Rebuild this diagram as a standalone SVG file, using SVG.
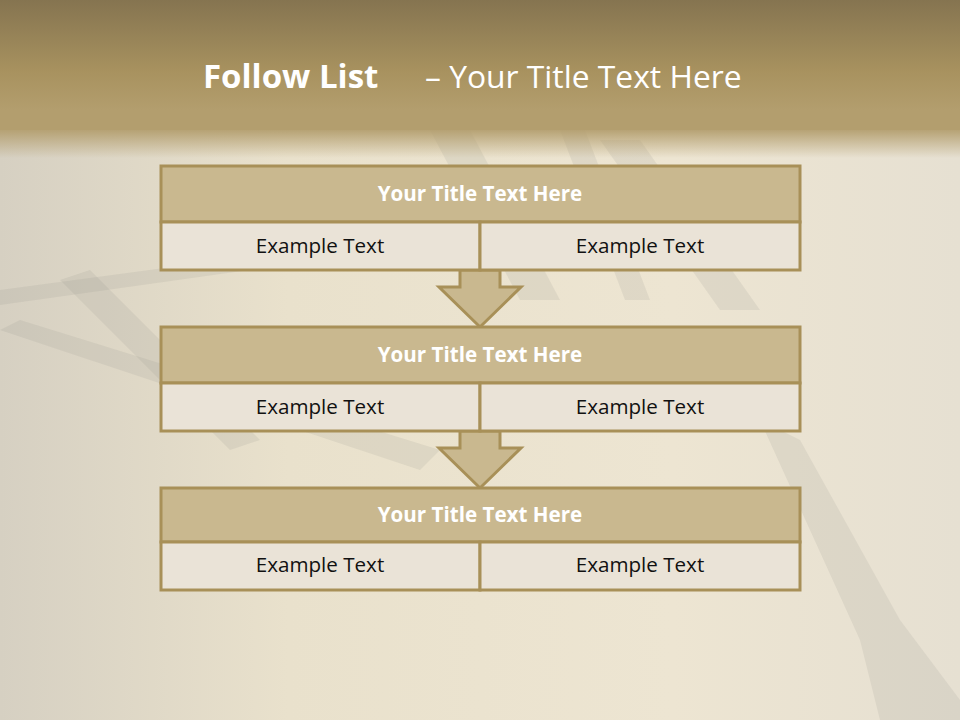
<svg xmlns="http://www.w3.org/2000/svg" width="960" height="720" viewBox="0 0 960 720">
<defs>
<linearGradient id="hdr" x1="0" y1="0" x2="0" y2="1">
<stop offset="0" stop-color="#857450"/>
<stop offset="0.55" stop-color="#A8925F"/>
<stop offset="0.85" stop-color="#B39E6E"/>
<stop offset="1" stop-color="#B39E6E"/>
</linearGradient>
<linearGradient id="fade" x1="0" y1="0" x2="0" y2="1">
<stop offset="0" stop-color="#B39E6E" stop-opacity="1"/>
<stop offset="1" stop-color="#B39E6E" stop-opacity="0"/>
</linearGradient>
<linearGradient id="bg" x1="0" y1="0" x2="1" y2="0">
<stop offset="0" stop-color="#D6D0C2"/>
<stop offset="0.3" stop-color="#E9E1CC"/>
<stop offset="0.7" stop-color="#EDE5D2"/>
<stop offset="1" stop-color="#E6E0D2"/>
</linearGradient>
<style>
.t{fill:#C9B88F;stroke:#A89058;stroke-width:3}
.c{fill:#EAE3D7;stroke:#A89058;stroke-width:3}
.a{fill:#C9B88F;stroke:#A89058;stroke-width:3;stroke-linejoin:miter}
.sh{fill:#8F8B84;opacity:0.14}
.tt{font-family:"Open Sans","Liberation Sans",sans-serif;font-weight:bold;font-size:20.6px;fill:#FFFFFF;text-anchor:middle}
.ex{font-family:"Open Sans","Liberation Sans",sans-serif;font-size:20.6px;fill:#111111;text-anchor:middle}
.hd{font-family:"Open Sans","Liberation Sans",sans-serif;fill:#FFFFFF}
</style>
</defs>
<rect x="0" y="0" width="960" height="720" fill="url(#bg)"/>
<g id="shadows">
<polygon class="sh" points="430,130 470,130 560,300 520,300"/>
<polygon class="sh" points="560,130 585,130 650,300 625,300"/>
<polygon class="sh" points="600,140 640,140 760,310 720,310"/>
<polygon class="sh" points="0,330 20,320 440,450 420,470"/>
<polygon class="sh" points="60,280 90,270 260,440 230,450"/>
<polygon class="sh" points="760,420 800,440 900,620 960,700 960,720 880,720 860,640"/>
<polygon class="sh" points="0,290 300,250 305,262 0,305"/>
</g>
<rect x="0" y="0" width="960" height="130" fill="url(#hdr)"/>
<rect x="0" y="128" width="960" height="30" fill="url(#fade)"/>
<text class="hd" x="203" y="88" font-size="33" font-weight="bold">Follow List</text>
<text class="hd" x="425" y="88" font-size="31.8">– Your Title Text Here</text>
<g id="connectors">
<polygon class="a" points="460,270 500,270 500,287 521,287 480,327 439,287 460,287"/>
<polygon class="a" points="460,431 500,431 500,448 521,448 480,488 439,448 460,448"/>
</g>
<g id="node1">
<rect class="t" x="161" y="166" width="639" height="56"/>
<rect class="c" x="161" y="222" width="319" height="48"/>
<rect class="c" x="480" y="222" width="320" height="48"/>
<text class="tt" x="480" y="201">Your Title Text Here</text>
<text class="ex" x="320" y="253">Example Text</text>
<text class="ex" x="640" y="253">Example Text</text>
</g>
<g id="node2">
<rect class="t" x="161" y="327" width="639" height="56"/>
<rect class="c" x="161" y="383" width="319" height="48"/>
<rect class="c" x="480" y="383" width="320" height="48"/>
<text class="tt" x="480" y="362">Your Title Text Here</text>
<text class="ex" x="320" y="414">Example Text</text>
<text class="ex" x="640" y="414">Example Text</text>
</g>
<g id="node3">
<rect class="t" x="161" y="488" width="639" height="54"/>
<rect class="c" x="161" y="542" width="319" height="48"/>
<rect class="c" x="480" y="542" width="320" height="48"/>
<text class="tt" x="480" y="522">Your Title Text Here</text>
<text class="ex" x="320" y="572">Example Text</text>
<text class="ex" x="640" y="572">Example Text</text>
</g>
</svg>
